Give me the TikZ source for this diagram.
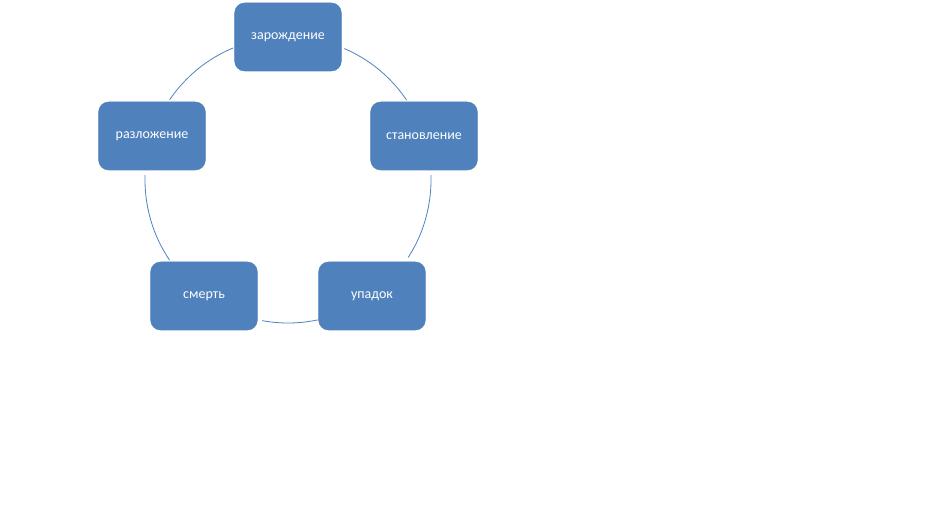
\documentclass[tikz,border=0pt]{standalone}
\usepackage{fontspec}
\setmainfont{Carlito}
\definecolor{boxblue}{HTML}{4F81BD}
\begin{document}
\begin{tikzpicture}[x=0.75pt,y=0.75pt,
  stage/.style={draw=boxblue,fill=boxblue,rounded corners=7.5pt,minimum width=80pt,minimum height=51pt,text=white,font=\fontsize{10.5pt}{12pt}\selectfont,inner sep=0pt},
  ring/.style={draw=boxblue,line width=0.6pt}]
\useasboundingbox (0,0) rectangle (933,515);
\coordinate (c) at (288,335);
\def\R{107.25pt}
\draw[ring] ([shift={(c)}]66.8:\R) arc[start angle=66.8,end angle=33.9,radius=\R];
\draw[ring] ([shift={(c)}]2:\R) arc[start angle=2,end angle=-32.8,radius=\R];
\draw[ring] ([shift={(c)}]-78:\R) arc[start angle=-78,end angle=-100.4,radius=\R];
\draw[ring] ([shift={(c)}]-145.9:\R) arc[start angle=-145.9,end angle=-182,radius=\R];
\draw[ring] ([shift={(c)}]145.9:\R) arc[start angle=145.9,end angle=112.6,radius=\R];
\node[stage] (a) at (288,478) {зарождение};
\node[stage] (b) at (424,379) {становление};
\node[stage] (d) at (372,219) {упадок};
\node[stage] (e) at (204,219) {смерть};
\node[stage] (f) at (152,379) {разложение};
\end{tikzpicture}
\end{document}
